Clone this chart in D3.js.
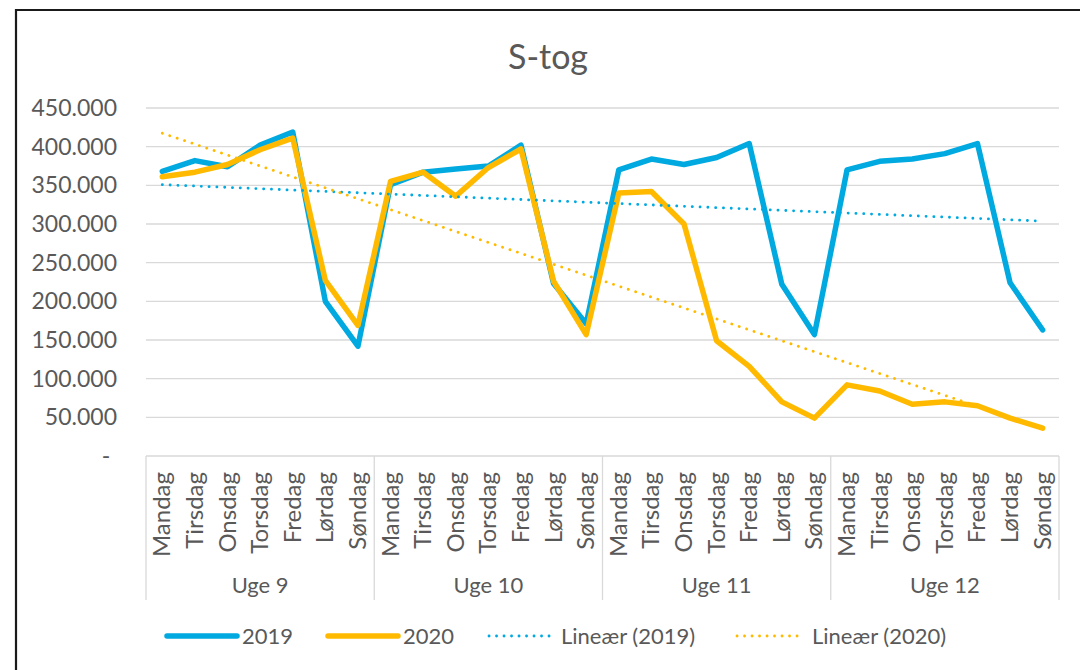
<!DOCTYPE html>
<html><head><meta charset="utf-8">
<script src="https://cdn.jsdelivr.net/npm/d3@7"></script>
<style>html,body{margin:0;padding:0;background:#fff;} svg{display:block;font-family:Lato, "Open Sans", sans-serif;}</style>
</head><body>
<svg id="c" width="1080" height="670"></svg>
<script>
const weeks = ["Uge 9","Uge 10","Uge 11","Uge 12"];
const days = ["Mandag","Tirsdag","Onsdag","Torsdag","Fredag","Lørdag","Søndag"];
const values2019 = [368000,382000,374000,402000,419000,200000,142000,
                    351000,367000,371000,375000,402000,223000,171000,
                    370000,384000,377000,386000,404000,222000,157000,
                    370000,381000,384000,391000,404000,224000,163000];
const values2020 = [361000,367000,377000,396000,411000,227000,169000,
                    355000,367000,336000,373000,397000,226000,157000,
                    340000,342000,300000,149000,116000,70000,49000,
                    92000,84000,67000,70000,65000,49000,36000];
const yTicks = [0,50000,100000,150000,200000,250000,300000,350000,400000,450000];
const seriesNames = ["2019","2020","Lineær (2019)","Lineær (2020)"];

(function(){
const blue = "#00A9E0", gold = "#FFBA00", grid = "#d9d9d9", txt = "#595959";
const svg = d3.select("#c");

// frame
svg.append("path").attr("d","M16,670 V10 H1080").attr("fill","none").attr("stroke","#1a1a1a").attr("stroke-width",2.2);

const pLeft = 146, pRight = 1059, pTop = 108, pBottom = 456;
const cats = [];
weeks.forEach(w => days.forEach(d => cats.push(w + "|" + d)));
const x = d3.scaleBand().domain(cats).range([pLeft, pRight]);
const y = d3.scaleLinear().domain([0, 450000]).range([pBottom, pTop]);
const cx = i => x(cats[i]) + x.bandwidth() / 2;

// title
svg.append("text").attr("x", 548).attr("y", 69).attr("text-anchor","middle")
  .attr("font-size", 34).attr("fill", txt).text("S-tog");

// gridlines
svg.append("g").selectAll("line").data(yTicks).join("line")
  .attr("x1", pLeft).attr("x2", pRight).attr("y1", d => y(d)).attr("y2", d => y(d))
  .attr("stroke", grid).attr("stroke-width", 1.3);

// y labels
const fmt = d => d === 0 ? "-" : d3.format(",")(d).replace(/,/g, ".");
svg.append("g").selectAll("text").data(yTicks).join("text")
  .attr("x", d => d === 0 ? 106 : 117).attr("y", d => y(d) + 8)
  .attr("text-anchor", d => d === 0 ? "middle" : "end")
  .attr("font-size", 23).attr("fill", txt).text(fmt);

// category axis: week separators
const sepX = weeks.map((w, i) => x(w + "|" + days[0])).concat([pRight]);
svg.append("g").selectAll("line").data(sepX).join("line")
  .attr("x1", d => d).attr("x2", d => d).attr("y1", pBottom).attr("y2", 600)
  .attr("stroke", grid).attr("stroke-width", 1.3);

// day labels
svg.append("g").selectAll("text").data(cats).join("text")
  .attr("transform", (d, i) => `translate(${cx(i) + 8},472) rotate(-90)`)
  .attr("text-anchor", "end").attr("font-size", 24).attr("fill", txt)
  .text(d => d.split("|")[1]);

// week labels
svg.append("g").selectAll("text").data(weeks).join("text")
  .attr("x", (w, i) => (sepX[i] + sepX[i + 1]) / 2).attr("y", 593)
  .attr("text-anchor", "middle").attr("font-size", 22).attr("fill", txt).text(d => d);

// series lines
const line = d3.line().x((d, i) => cx(i)).y(d => y(d));
svg.append("path").datum(values2019).attr("d", line).attr("fill","none")
  .attr("stroke", blue).attr("stroke-width", 5.5).attr("stroke-linejoin","round").attr("stroke-linecap","round");
svg.append("path").datum(values2020).attr("d", line).attr("fill","none")
  .attr("stroke", gold).attr("stroke-width", 5.5).attr("stroke-linejoin","round").attr("stroke-linecap","round");

// trend lines (least squares)
function trend(vals) {
  const n = vals.length, xs = d3.range(n);
  const mx = d3.mean(xs), my = d3.mean(vals);
  const b = d3.sum(xs, i => (i - mx) * (vals[i] - my)) / d3.sum(xs, i => (i - mx) ** 2);
  const a = my - b * mx;
  return [[0, a], [n - 1, a + b * (n - 1)]];
}
[[values2019, blue], [values2020, gold]].forEach(([v, c]) => {
  const t = trend(v);
  svg.append("line").attr("x1", cx(t[0][0])).attr("y1", y(t[0][1]))
    .attr("x2", cx(t[1][0])).attr("y2", y(t[1][1]))
    .attr("stroke", c).attr("stroke-width", 2.8).attr("stroke-dasharray", "0.1 7.7")
    .attr("stroke-linecap", "round");
});

// legend
const leg = [
  {x1: 167, x2: 237, tx: 242, c: blue, dash: false},
  {x1: 328, x2: 398, tx: 403, c: gold, dash: false},
  {x1: 489, x2: 555, tx: 561, c: blue, dash: true},
  {x1: 737, x2: 803, tx: 812, c: gold, dash: true}
];
const lg = svg.append("g");
leg.forEach((l, i) => {
  lg.append("line").attr("x1", l.x1).attr("x2", l.x2).attr("y1", 636).attr("y2", 636)
    .attr("stroke", l.c).attr("stroke-width", l.dash ? 2.8 : 5.5).attr("stroke-linecap","round")
    .attr("stroke-dasharray", l.dash ? "0.1 7.4" : null);
  lg.append("text").attr("x", l.tx).attr("y", 644).attr("font-size", 22).attr("fill", txt).text(seriesNames[i]);
});
})();
</script>
</body></html>
